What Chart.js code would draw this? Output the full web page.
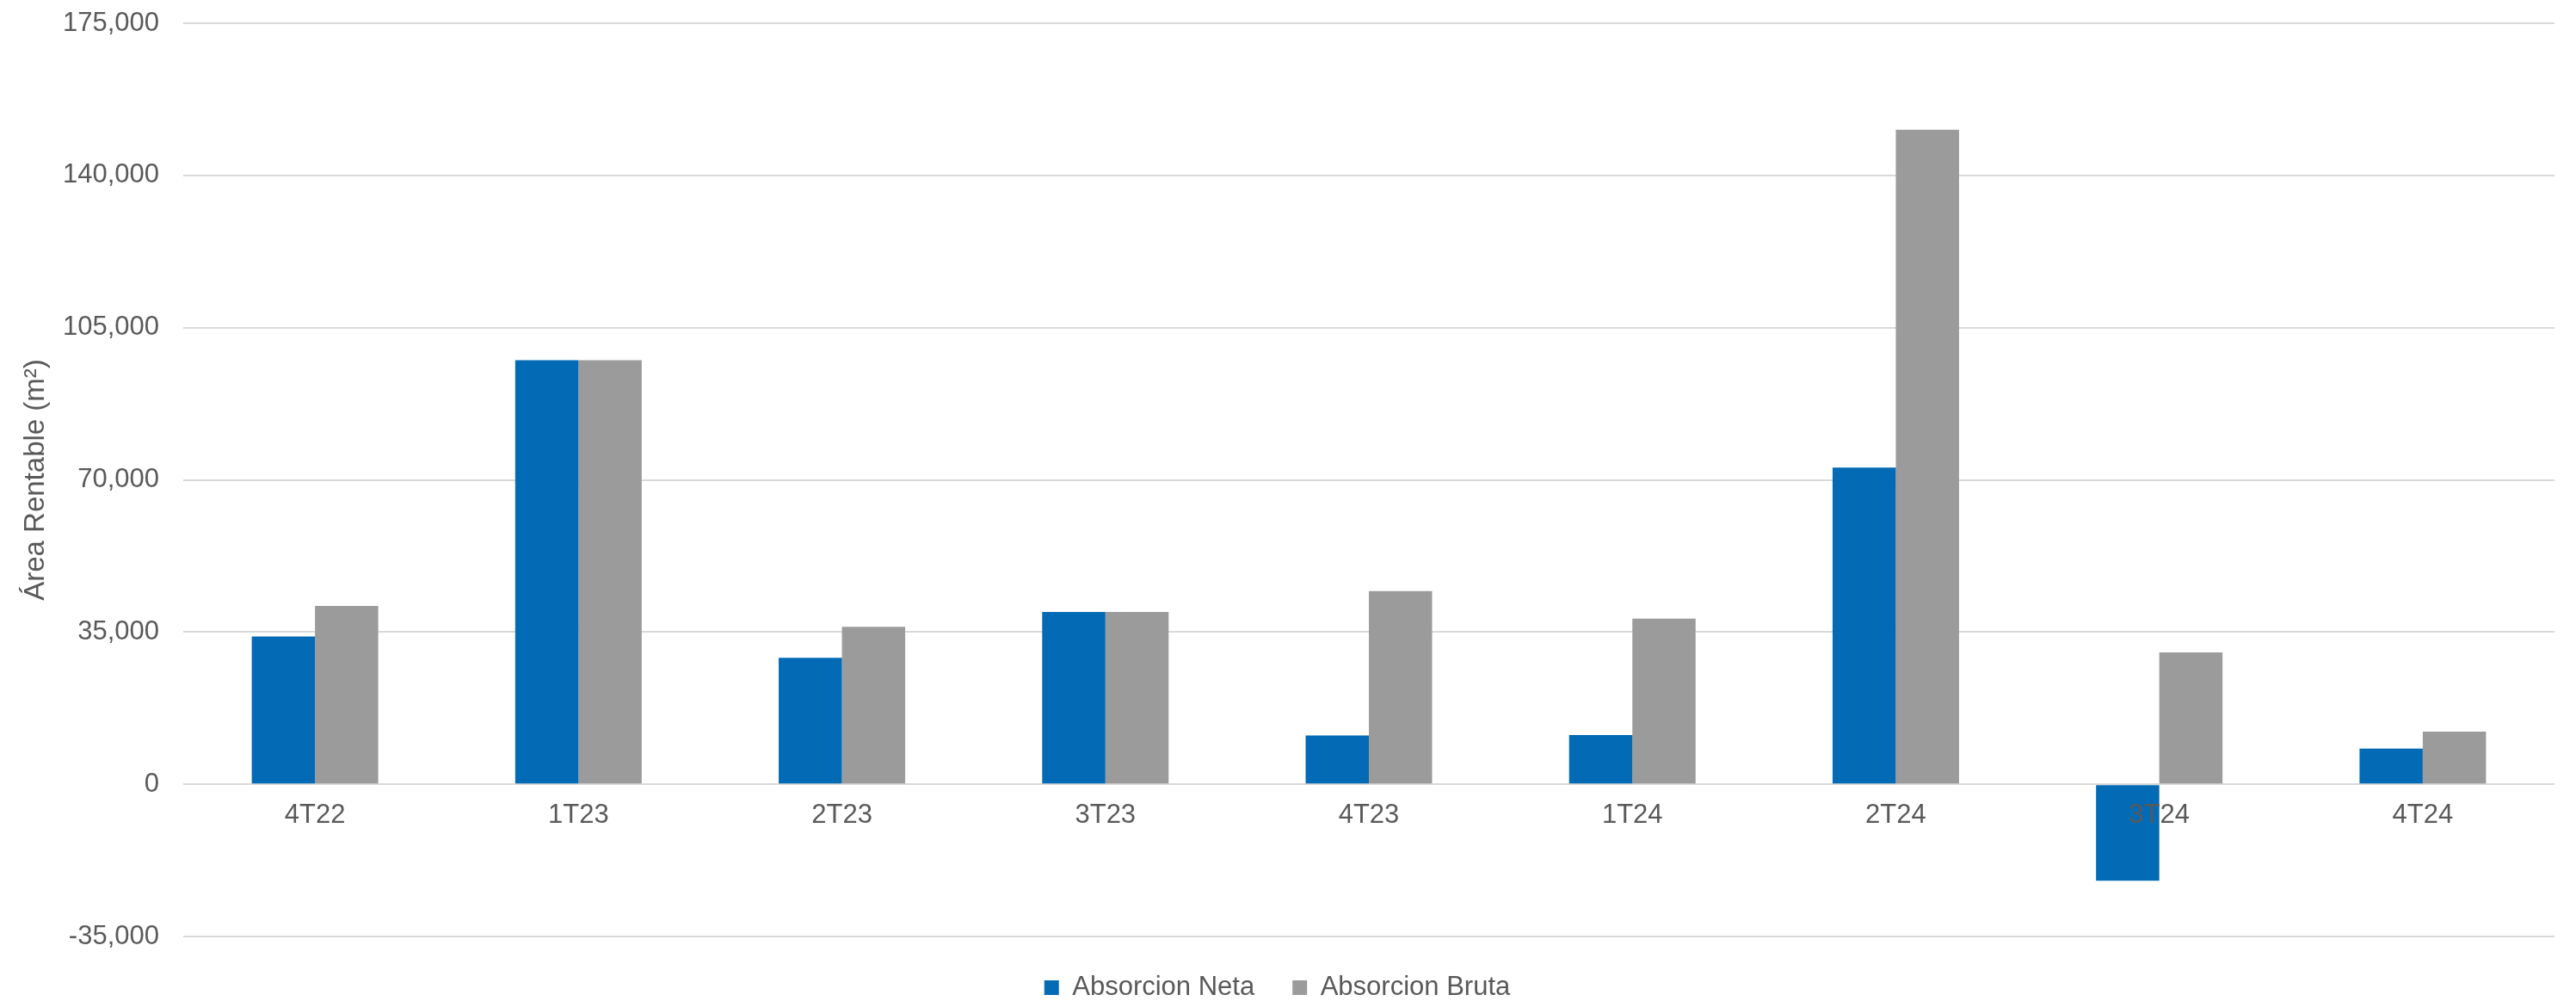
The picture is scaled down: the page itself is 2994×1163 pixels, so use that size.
<!DOCTYPE html>
<html>
<head>
<meta charset="utf-8">
<script src="https://cdn.jsdelivr.net/npm/chart.js@4.4.1/dist/chart.umd.min.js"></script>
<style>
  html, body { margin: 0; padding: 0; background: #ffffff; }
  #wrap { width: 2994px; height: 1163px; }
</style>
</head>
<body>
<div id="wrap"><canvas id="absorcionChart" width="2994" height="1163"></canvas></div>
<script>
const trimestres = ['4T22', '1T23', '2T23', '3T23', '4T23', '1T24', '2T24', '3T24', '4T24'];
const absorcionNeta = [34000, 97500, 29100, 39600, 11200, 11300, 72800, -22200, 8200];
const absorcionBruta = [41000, 97500, 36200, 39600, 44400, 38100, 150500, 30300, 12100];
const yMin = -35000;
const yMax = 175000;
const yStep = 35000;

const textColor = '#595959';
const fontFamily = '"Liberation Sans", Arial, sans-serif';

function formatNumber(num) {
  return num.toLocaleString('en-US');
}

const ctx = document.getElementById('absorcionChart').getContext('2d');
new Chart(ctx, {
  type: 'bar',
  data: {
    labels: trimestres,
    datasets: [{
      label: 'Absorcion Neta',
      data: absorcionNeta,
      backgroundColor: '#036ab5',
      borderWidth: 0
    }, {
      label: 'Absorcion Bruta',
      data: absorcionBruta,
      backgroundColor: '#9b9b9b',
      borderWidth: 0
    }]
  },
  options: {
    responsive: false,
    animation: false,
    devicePixelRatio: 1,
    categoryPercentage: 0.48,
    barPercentage: 1.0,
    layout: {
      padding: { top: 27, right: 25, bottom: -10, left: 0 }
    },
    plugins: {
      tooltip: { enabled: false },
      legend: {
        position: 'bottom',
        labels: {
          color: textColor,
          font: { family: fontFamily, size: 31 },
          boxWidth: 17,
          boxHeight: 17,
          padding: 44
        }
      }
    },
    scales: {
      x: {
        // category labels sit just under the zero line, over the bars
        position: { y: 0 },
        grid: { display: false },
        border: { display: false },
        ticks: {
          z: 1,
          color: textColor,
          font: { family: fontFamily, size: 31 },
          padding: 10,
          maxRotation: 0
        }
      },
      y: {
        min: yMin,
        max: yMax,
        // invisible tick marks keep the labels off the grid lines
        grid: { color: '#d9d9d9', lineWidth: 2, drawTicks: true, tickLength: 28, tickColor: 'rgba(0,0,0,0)' },
        border: { display: false },
        ticks: {
          stepSize: yStep,
          color: textColor,
          font: { family: fontFamily, size: 31 },
          padding: 0,
          callback: value => formatNumber(value)
        },
        title: {
          display: true,
          text: 'Área Rentable (m²)',
          color: textColor,
          font: { family: fontFamily, size: 33 },
          padding: { top: 22, bottom: 0 }
        },
        afterFit: scale => { scale.width = 213; }
      }
    }
  }
});
</script>
</body>
</html>
